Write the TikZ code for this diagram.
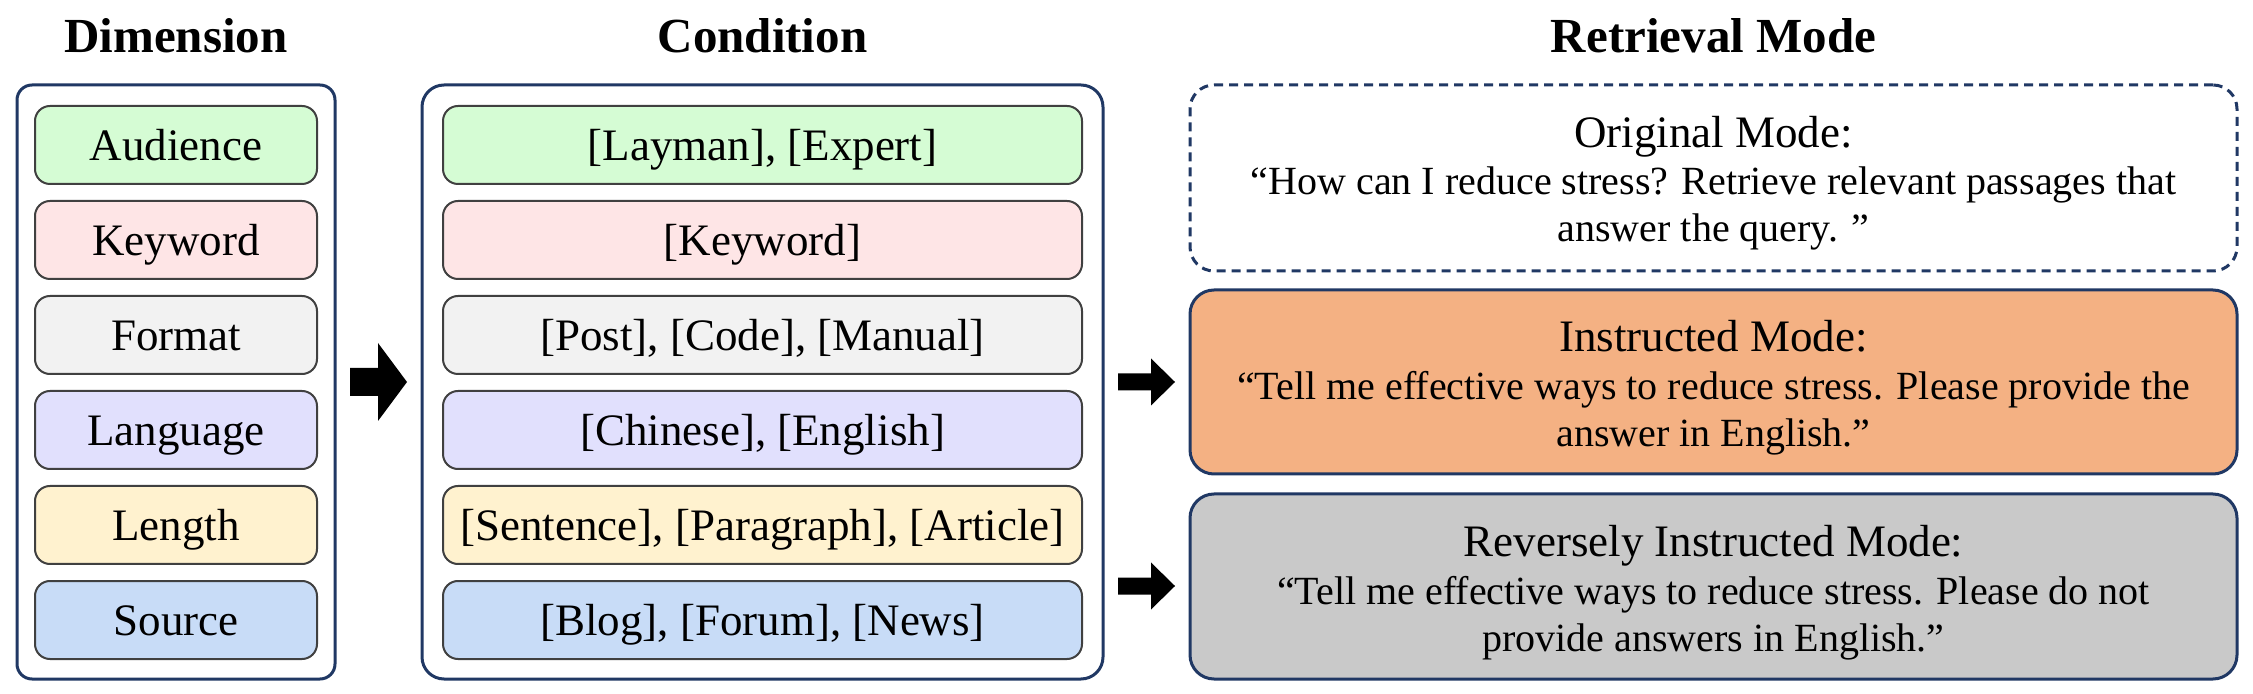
\documentclass[tikz,border=0pt]{standalone}
\usepackage{fontspec}
\setmainfont{Liberation Serif}
\usetikzlibrary{calc}
\definecolor{navy}{HTML}{203864}
\definecolor{itemline}{HTML}{404040}
\definecolor{cgreen}{HTML}{D5FCD4}
\definecolor{cpink}{HTML}{FEE5E6}
\definecolor{cgray}{HTML}{F2F2F2}
\definecolor{clav}{HTML}{E1E0FD}
\definecolor{cyel}{HTML}{FFF2CF}
\definecolor{cblue}{HTML}{C8DCF7}
\definecolor{corange}{HTML}{F4B183}
\definecolor{cdgray}{HTML}{C9C9C9}
\begin{document}
\begin{tikzpicture}[x=0.5pt,y=-0.5pt,
  outerbox/.style={draw=navy, line width=1.5pt, inner sep=0pt, fill=white},
  itembox/.style={draw=itemline, line width=1pt, rounded corners=7.5pt, inner sep=0pt,
    minimum height=39pt, font=\fontsize{22.5}{27}\selectfont, text height=15.75pt, text depth=0pt},
  dimitem/.style={itembox, minimum width=141pt},
  conditem/.style={itembox, minimum width=319.5pt},
  modebox/.style={draw=navy, line width=1.5pt, rounded corners=12pt, inner sep=0pt, minimum width=523.5pt},
  hdr/.style={font=\fontsize{22.5}{27}\selectfont, anchor=base, inner sep=0pt},
  qt/.style={font=\fontsize{20}{24}\selectfont, anchor=base, inner sep=0pt},
  coltitle/.style={font=\bfseries\fontsize{24.5}{29}\selectfont, anchor=base, inner sep=0pt},
  blockarrow/.style={fill=black, draw=none}
]
\useasboundingbox (0,0) rectangle (2253,694);

% titles
\node[coltitle] (tdim) at (176,53) {Dimension};
\node[coltitle] (tcond) at (762.5,53) {Condition};
\node[coltitle] (tmode) at (1713.5,53) {Retrieval Mode};

% outer panels
\node[outerbox, rounded corners=7.5pt, minimum width=159pt, minimum height=297pt] (dimpanel) at (176,382) {};
\node[outerbox, rounded corners=11pt, minimum width=340.5pt, minimum height=297pt] (condpanel) at (762.5,382) {};

% dimension items
\node[dimitem, fill=cgreen] (d1) at (176,145) {Audience};
\node[dimitem, fill=cpink]  (d2) at (176,240) {Keyword};
\node[dimitem, fill=cgray]  (d3) at (176,335) {Format};
\node[dimitem, fill=clav]   (d4) at (176,430) {Language};
\node[dimitem, fill=cyel]   (d5) at (176,525) {Length};
\node[dimitem, fill=cblue]  (d6) at (176,620) {Source};

% condition items
\node[conditem, fill=cgreen] (c1) at (762.5,145) {[Layman], [Expert]};
\node[conditem, fill=cpink]  (c2) at (762.5,240) {[Keyword]};
\node[conditem, fill=cgray]  (c3) at (762.5,335) {[Post], [Code], [Manual]};
\node[conditem, fill=clav]   (c4) at (762.5,430) {[Chinese], [English]};
\node[conditem, fill=cyel]   (c5) at (762.5,525) {[Sentence], [Paragraph], [Article]};
\node[conditem, fill=cblue]  (c6) at (762.5,620) {[Blog], [Forum], [News]};

% mode boxes
\node[modebox, dashed, dash pattern=on 4.5pt off 3pt, fill=white, minimum height=93pt] (m1) at (1713.5,178) {};
\node[modebox, fill=corange, minimum height=92pt] (m2) at (1713.5,382) {};
\node[modebox, fill=cdgray, minimum height=92.5pt] (m3) at (1713.5,586.5) {};

\node[hdr] (m1a) at ([shift={(0,-30)}]m1.center) {Original Mode:};
\node[qt]  (m1b) at ([shift={(0,17)}]m1.center) {“How can I reduce stress? Retrieve relevant passages that};
\node[qt]  (m1c) at ([shift={(0,64)}]m1.center) {answer the query. ”};

\node[hdr] (m2a) at ([shift={(0,-30)}]m2.center) {Instructed Mode:};
\node[qt]  (m2b) at ([shift={(0,18)}]m2.center) {“Tell me effective ways to reduce stress. Please provide the};
\node[qt]  (m2c) at ([shift={(0,65)}]m2.center) {answer in English.”};

\node[hdr] (m3a) at ([shift={(0,-30)}]m3.center) {Reversely Instructed Mode:};
\node[qt]  (m3b) at ([shift={(0,18)}]m3.center) {“Tell me effective ways to reduce stress. Please do not};
\node[qt]  (m3c) at ([shift={(0,65)}]m3.center) {provide answers in English.”};

% block arrows
\coordinate (a1) at (350,382);
\fill[blockarrow] (a1) ++(0,-14) -- ++(28,0) -- ++(0,-25) -- ++(29,39) -- ++(-29,39) -- ++(0,-25) -- ++(-28,0) -- cycle;
\coordinate (a2) at (1118,382);
\fill[blockarrow] (a2) ++(0,-8.5) -- ++(33,0) -- ++(0,-15) -- ++(24,23.5) -- ++(-24,23.5) -- ++(0,-15) -- ++(-33,0) -- cycle;
\coordinate (a3) at (1118,586);
\fill[blockarrow] (a3) ++(0,-8.5) -- ++(33,0) -- ++(0,-15) -- ++(24,23.5) -- ++(-24,23.5) -- ++(0,-15) -- ++(-33,0) -- cycle;
\end{tikzpicture}
\end{document}
